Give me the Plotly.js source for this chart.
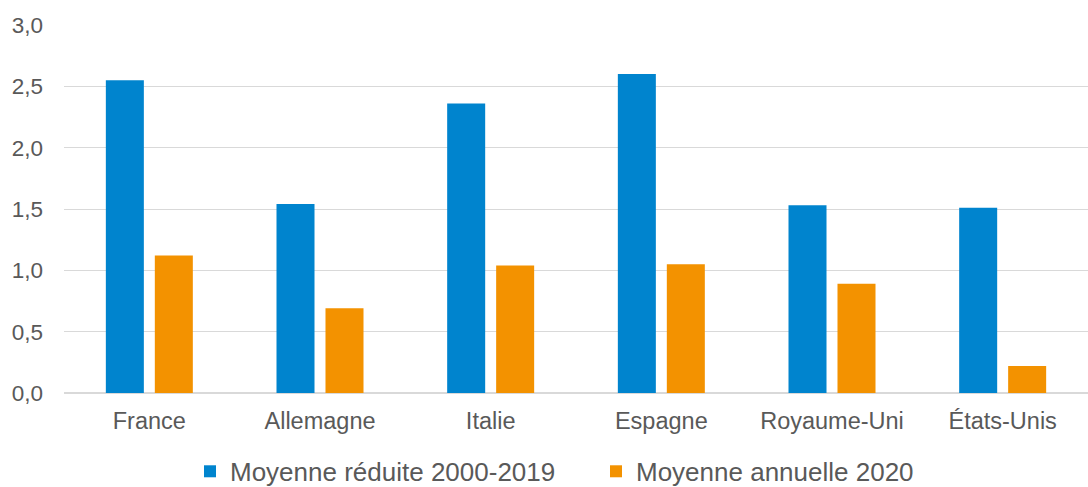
<!DOCTYPE html>
<html>
<head>
<meta charset="utf-8">
<script src="https://cdn.plot.ly/plotly-3.0.1.min.js"></script>
<style>
html,body{margin:0;padding:0;background:#fff;}
#chart{width:1088px;height:487px;}
</style>
</head>
<body>
<div id="chart"></div>
<script>
const categories = ["France", "Allemagne", "Italie", "Espagne", "Royaume-Uni", "États-Unis"];
const seriesNames = ["Moyenne réduite 2000-2019", "Moyenne annuelle 2020"];
const moyenneReduite = [2.55, 1.54, 2.36, 2.60, 1.53, 1.51];
const moyenneAnnuelle2020 = [1.12, 0.69, 1.04, 1.05, 0.89, 0.22];
const tickValues = [0, 0.5, 1.0, 1.5, 2.0, 2.5, 3.0];
const tickLabels = ["0,0", "0,5", "1,0", "1,5", "2,0", "2,5", "3,0"];

const fontFam = "Liberation Sans, Arial, sans-serif";
const textColor = "#595959";

const traces = [
  {type: "bar", name: seriesNames[0], x: categories, y: moyenneReduite,
   marker: {color: "#0084CE"}, hoverinfo: "x+y"},
  {type: "bar", name: seriesNames[1], x: categories, y: moyenneAnnuelle2020,
   marker: {color: "#F39200"}, hoverinfo: "x+y"}
];

const layout = {
  width: 1088, height: 487,
  margin: {l: 64, r: 0, t: 25, b: 94, autoexpand: false},
  paper_bgcolor: "#fff", plot_bgcolor: "#fff",
  barmode: "group", bargap: 0.426, bargroupgap: 0.224,
  font: {family: fontFam, color: textColor, size: 22},
  xaxis: {
    type: "category", showgrid: false, zeroline: false, showline: false,
    ticks: "", tickfont: {size: 23.5, color: textColor}, ticklabelstandoff: 11,
    automargin: false
  },
  yaxis: {
    range: [0, 3.0], tickvals: tickValues, ticktext: tickLabels,
    showgrid: true, gridcolor: "#D9D9D9", gridwidth: 1,
    zeroline: true, zerolinecolor: "#D9D9D9", zerolinewidth: 2,
    showline: false, ticks: "", tickfont: {size: 22.5, color: textColor},
    ticklabelstandoff: 20, automargin: false
  },
  showlegend: true,
  legend: {
    orientation: "h", xref: "container", x: 190 / 1088, xanchor: "left",
    yref: "paper", y: -0.213, yanchor: "middle",
    font: {size: 26, color: textColor}, itemwidth: 30, traceorder: "normal",
    entrywidth: 361, entrywidthmode: "pixels"
  }
};

Plotly.newPlot("chart", traces, layout, {displayModeBar: false, staticPlot: true});
</script>
</body>
</html>
